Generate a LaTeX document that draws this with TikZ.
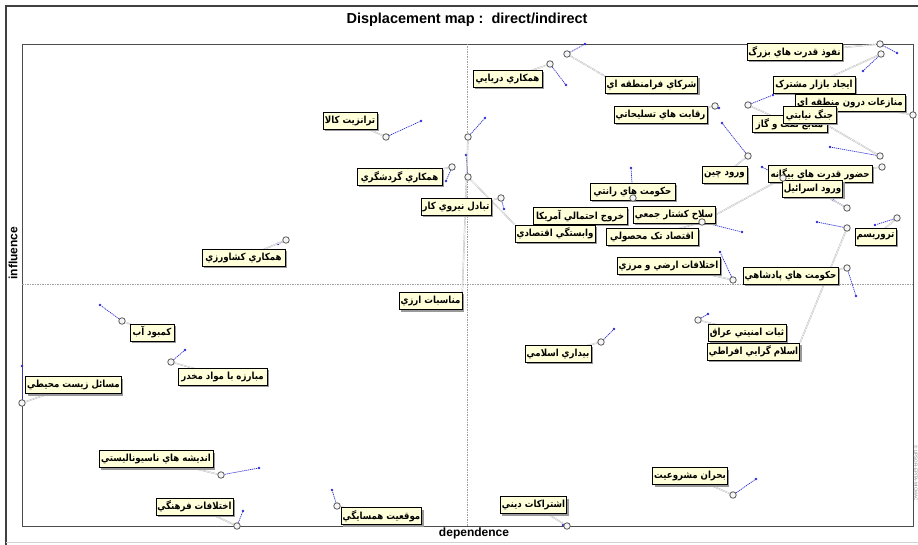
\documentclass[tikz,border=0pt]{standalone}
\usepackage{fontspec}
\setmainfont{Liberation Sans}
\newfontfamily\fafont[Script=Arabic, FakeStretch=0.88]{DejaVu Sans}
\TeXXeTstate=1
\usetikzlibrary{shadows}
\definecolor{boxfill}{HTML}{FFFFDA}
\definecolor{driftblue}{HTML}{2A2AD0}
\newcommand{\fatxt}[1]{{\fafont\bfseries #1}}

\pgfdeclarelayer{frame}
\pgfdeclarelayer{links}
\pgfdeclarelayer{marks}
\pgfsetlayers{frame,links,main,marks}

\tikzset{
  varbox/.style={draw=black, line width=0.7pt, fill=boxfill, inner sep=1.5pt,
    minimum height=17pt, font=\fontsize{9.8}{10}\selectfont,
    drop shadow={shadow xshift=2pt, shadow yshift=-2pt, fill=gray!80, opacity=1}},
  leader/.style={draw=gray!60, line width=0.45pt, double=white, double distance=0.6pt,
    dash pattern=on 1pt off 0.5pt},
  drift/.style={draw=driftblue, line width=0.7pt, dash pattern=on 1.2pt off 0.8pt},
  posmark/.style={circle, draw=black!65, fill=gray!8, line width=0.8pt, inner sep=0pt, minimum size=6.5pt},
  indot/.style={circle, fill=driftblue, inner sep=0pt, minimum size=2.6pt},
}

% #1 id, #2 #3 box centre, #4 box width, #5 label, #6 direct position,
% #7 indirect position, #8 leader anchor on the box
\newcommand{\mapvar}[8]{%
  \node[varbox, minimum width=#4pt] (b#1) at (#2,#3) {\fatxt{#5}};
  \begin{pgfonlayer}{marks}\node[posmark] (p#1) at (#6) {};\end{pgfonlayer}
  \begin{pgfonlayer}{links}
    \node[indot] (d#1) at (#7) {};
    \draw[drift] (p#1) -- (d#1);
    \draw[leader] (b#1.#8) -- (p#1);
  \end{pgfonlayer}}

\begin{document}
\begin{tikzpicture}[x=1pt,y=-1pt]
\useasboundingbox (0,0) rectangle (918,545);

\begin{pgfonlayer}{frame}
  \fill[white] (0,0) rectangle (918,545);
  \draw[black!75, line width=2.5pt] (6,545) -- (6,6) -- (918,6);
  \draw[gray!35, line width=1pt] (6,542) -- (918,542);
  \draw[black!70, line width=0.9pt] (22,44) rectangle (913,526);
  \draw[gray!75, line width=0.5pt, dash pattern=on 1.5pt off 1pt] (467,44) -- (467,526);
  \draw[gray!75, line width=0.5pt, dash pattern=on 1.5pt off 1pt] (22,284) -- (913,284);
\end{pgfonlayer}

\node[font=\bfseries\fontsize{14.5}{15}\selectfont] (title) at (467,20) {Displacement map :\ \ direct/indirect};
\node[rotate=90, font=\bfseries\fontsize{12}{12}\selectfont] (ylab) at (13,253) {influence};
\node[font=\bfseries\fontsize{12}{12}\selectfont] (xlab) at (474,533) {dependence};
\node[rotate=-90, text=gray, font=\fontsize{4.5}{5}\selectfont] (credit) at (916,473) {\copyright{} LIPSOR-EPITA-MICMAC};

% upper right quadrant
\mapvar{1}{794.5}{52}{95}{\beginR نفوذ قدرت هاي بزرگ\endR}{880,44}{897,53}{center}
\mapvar{2}{814}{84.5}{82}{\beginR ايجاد بازار مشترک\endR}{881,54}{863,71}{center}
\mapvar{3}{507.5}{79}{69}{\beginR همكاري دريايي\endR}{550,64}{566,85}{center}
\mapvar{4}{651.5}{85}{87}{\beginR شرکاي فرامنطقه اي\endR}{567,54}{585,44}{north west}
\mapvar{5}{660.5}{115}{87}{\beginR رقابت هاي تسليحاتي\endR}{715,106}{719,108}{center}
\mapvar{6}{789.5}{124}{75}{\beginR منابع نفت و گاز\endR}{748,105}{773,95}{center}
\mapvar{7}{850}{102.5}{110}{\beginR منازعات درون منطقه اي\endR}{913,115}{913,115}{center}
\mapvar{8}{809.5}{115}{53}{\beginR جنگ نيابتي\endR}{880,156}{830,147}{center}
\mapvar{9}{820}{174}{104}{\beginR حضور قدرت هاي بيگانه\endR}{882,167}{882,167}{center}
\mapvar{10}{724.5}{174.5}{45}{\beginR ورود چين\endR}{748,156}{722,123}{center}
\mapvar{12}{812.5}{188.5}{59}{\beginR ورود اسرائيل\endR}{847,208}{833,200}{center}
\mapvar{13}{875.5}{236.5}{39}{\beginR تروريسم\endR}{897,218}{875,225}{center}
\mapvar{15}{790.5}{275.5}{95}{\beginR حكومت هاي پادشاهي\endR}{847,268}{856,296}{center}
\mapvar{16}{668.5}{265.5}{103}{\beginR اختلافات ارضي و مرزي\endR}{733,280}{720,252}{center}
\mapvar{33}{632.5}{192}{85}{\beginR حكومت هاي رانتي\endR}{633,198}{631,168}{center}
\mapvar{11}{674}{215}{82}{\beginR سلاح كشتار جمعي\endR}{783,178}{762,167}{east}
\node[varbox, minimum width=94pt] (b35) at (580,216) {\fatxt{\beginR خروج احتمالي آمريکا\endR}};
\mapvar{32}{555}{233.5}{76}{\beginR وابستگي اقتصادي\endR}{468,177}{466,155}{north west}
\mapvar{34}{652}{236.5}{92}{\beginR اقتصاد تک محصولي\endR}{702,222}{742,232}{center}

% upper left quadrant
\mapvar{27}{243.5}{258}{83}{\beginR همكاري كشاورزي\endR}{286,240}{278,244}{center}
\mapvar{28}{350}{121}{54}{\beginR ترانزيت كالا\endR}{386,137}{421,121}{center}
\mapvar{29}{399.5}{177}{85}{\beginR همكاري گردشگري\endR}{452,167}{446,181}{center}
\mapvar{30}{456}{207}{70}{\beginR تبادل نيروي كار\endR}{501,198}{504,209}{center}

% lower right quadrant
\mapvar{17}{747}{332.5}{78}{\beginR ثبات امنيتي عراق\endR}{698,320}{708,314}{center}
\mapvar{14}{753.5}{351.5}{85}{\beginR اسلام گرايي افراطي\endR}{847,228}{817,222}{north east}
\mapvar{18}{558}{353.5}{66}{\beginR بيداري اسلامي\endR}{601,342}{614,329}{center}
\mapvar{19}{690}{476}{74}{\beginR بحران مشروعيت\endR}{733,495}{756,479}{center}
\mapvar{20}{533.5}{505}{63}{\beginR اشتراكات ديني\endR}{567,526}{563,525}{center}

% lower left quadrant
\mapvar{31}{430.5}{301}{63}{\beginR مناسبات ارزي\endR}{468,137}{485,118}{north east}
\mapvar{21}{381.5}{516}{73}{\beginR موقعيت همسايگي\endR}{337,506}{332,490}{center}
\mapvar{22}{194.5}{506.5}{75}{\beginR اختلافات فرهنگي\endR}{237,526}{243,511}{center}
\mapvar{23}{156}{459}{114}{\beginR انديشه هاي  ناسيوناليستي\endR}{221,475}{259,468}{center}
\mapvar{24}{73.5}{385}{91}{\beginR مسائل زيست محيطي\endR}{22,403}{22,366}{center}
\mapvar{25}{222.5}{376.5}{89}{\beginR مبارزه با مواد مخدر\endR}{171,362}{185,350}{center}
\mapvar{26}{152}{332.5}{44}{\beginR كمبود آب\endR}{122,321}{100,305}{center}
\end{tikzpicture}
\end{document}
